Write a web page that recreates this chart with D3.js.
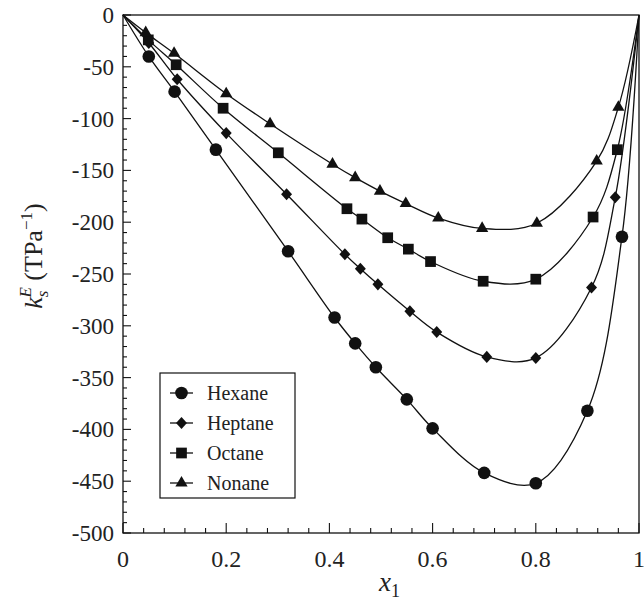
<!DOCTYPE html>
<html><head><meta charset="utf-8">
<script src="https://cdn.jsdelivr.net/npm/d3@7"></script>
<style>body{margin:0;background:#fff}svg{display:block}text{font-family:"Liberation Serif","DejaVu Serif",serif}</style>
</head><body><svg id="c" width="644" height="600"></svg>
<script>
const seriesNames = ["Hexane","Heptane","Octane","Nonane"];
const hexaneX = [0,0.05,0.1,0.18,0.32,0.41,0.45,0.49,0.55,0.60,0.70,0.80,0.90,0.967,1];
const hexaneY = [0,-40,-74,-130,-228,-292,-317,-340,-371,-399,-442,-452,-382,-214,0];
const heptaneX = [0,0.05,0.105,0.2,0.317,0.43,0.46,0.494,0.556,0.608,0.705,0.80,0.908,0.954,1];
const heptaneY = [0,-27,-62,-114,-173,-231,-245,-260,-286,-306,-330,-331,-263,-176,0];
const octaneX = [0,0.049,0.103,0.194,0.301,0.434,0.463,0.513,0.553,0.596,0.698,0.80,0.911,0.958,1];
const octaneY = [0,-24,-48,-90,-133,-187,-197,-215,-226,-238,-257,-255,-195,-130,0];
const nonaneX = [0,0.044,0.099,0.2,0.285,0.406,0.45,0.498,0.548,0.611,0.696,0.802,0.918,0.96,1];
const nonaneY = [0,-17,-37,-76,-105,-144,-157,-170,-182,-196,-206,-201,-141,-89,0];
const xTicks = [0,0.2,0.4,0.6,0.8,1];
const xTickLabels = ["0","0.2","0.4","0.6","0.8","1"];
const yTicks = [0,-50,-100,-150,-200,-250,-300,-350,-400,-450,-500];

const svg = d3.select("#c");
const L=123,R=639,T=15,B=533;
const x = d3.scaleLinear().domain([0,1]).range([L,R]);
const y = d3.scaleLinear().domain([0,-500]).range([T,B]);
const font = '"Liberation Serif","DejaVu Serif",serif';

svg.append("rect").attr("x",L).attr("y",T).attr("width",R-L).attr("height",B-T)
  .attr("fill","none").attr("stroke","#111").attr("stroke-width",1.3);

const xMinor = d3.range(0,1.0001,0.04).map(v=>+v.toFixed(2));
svg.append("g").selectAll("line").data(xMinor).join("line")
  .attr("x1",d=>x(d)).attr("x2",d=>x(d)).attr("y1",B)
  .attr("y2",d=>xTicks.some(t=>Math.abs(t-d)<1e-6)?B-10:B-5)
  .attr("stroke","#111").attr("stroke-width",1.1);
svg.append("g").selectAll("text").data(xTicks).join("text")
  .attr("x",d=>x(d)).attr("y",567).attr("text-anchor","middle")
  .style("font-family",font).attr("font-size",24).attr("fill","#222")
  .text((d,i)=>xTickLabels[i]);

const yMinor = d3.range(0,-501,-10);
svg.append("g").selectAll("line").data(yMinor).join("line")
  .attr("y1",d=>y(d)).attr("y2",d=>y(d)).attr("x1",L)
  .attr("x2",d=>d%50===0?L+8:L+4)
  .attr("stroke","#111").attr("stroke-width",1.1);
svg.append("g").selectAll("text").data(yTicks).join("text")
  .attr("x",114).attr("y",d=>y(d)+8).attr("text-anchor","end")
  .style("font-family",font).attr("font-size",23).attr("fill","#222")
  .text(d=>String(d));

const xt = svg.append("text").attr("x",379).attr("y",591).style("font-family",font)
  .attr("font-size",27).attr("font-style","italic").attr("fill","#222");
xt.append("tspan").text("x");
xt.append("tspan").attr("dy",6).attr("font-size",18).attr("font-style","normal").text("1");

const yt = svg.append("text").attr("transform","translate(42,256) rotate(-90)")
  .attr("text-anchor","middle").style("font-family",font).attr("font-size",26).attr("fill","#222");
yt.append("tspan").attr("font-style","italic").text("k");
yt.append("tspan").attr("font-style","italic").attr("font-size",17).attr("dy",6).text("s");
yt.append("tspan").attr("font-style","italic").attr("font-size",17).attr("dx",-7).attr("dy",-17).text("E");
yt.append("tspan").attr("dy",11).text(" (TPa");
yt.append("tspan").attr("font-size",17).attr("dy",-10).text("−1");
yt.append("tspan").attr("dy",10).text(")");

const diamond = { draw(ctx, size){ const r=Math.sqrt(size/2); ctx.moveTo(0,-r*1.1); ctx.lineTo(r,0); ctx.lineTo(0,r*1.1); ctx.lineTo(-r,0); ctx.closePath(); } };
const data = [
  {name:"Hexane", xs:hexaneX, ys:hexaneY, sym:d3.symbolCircle, size:125},
  {name:"Heptane", xs:heptaneX, ys:heptaneY, sym:diamond, size:60},
  {name:"Octane", xs:octaneX, ys:octaneY, sym:d3.symbolSquare, size:115},
  {name:"Nonane", xs:nonaneX, ys:nonaneY, sym:d3.symbolTriangle, size:65}
];
const line = d3.line().x(d=>x(d[0])).y(d=>y(d[1])).curve(d3.curveCatmullRom.alpha(0.5));
data.forEach(s=>{
  const pts = s.xs.map((v,i)=>[v,s.ys[i]]);
  svg.append("path").attr("d",line(pts)).attr("fill","none").attr("stroke","#111").attr("stroke-width",1.3);
  const inner = pts.filter(p=>p[0]>0 && p[0]<1);
  svg.append("g").selectAll("path").data(inner).join("path")
    .attr("transform",p=>`translate(${x(p[0])},${y(p[1])})`)
    .attr("d",d3.symbol().type(s.sym).size(s.size)).attr("fill","#111");
});

svg.append("rect").attr("x",160).attr("y",373).attr("width",135).attr("height",125)
  .attr("fill","#fff").attr("stroke","#111").attr("stroke-width",1.2);
data.forEach((s,i)=>{
  const ly = 393 + i*30;
  svg.append("line").attr("x1",170).attr("x2",193).attr("y1",ly).attr("y2",ly).attr("stroke","#111").attr("stroke-width",1.3);
  svg.append("path").attr("transform",`translate(181.5,${ly})`).attr("d",d3.symbol().type(s.sym).size(s.size)).attr("fill","#111");
  svg.append("text").attr("x",207).attr("y",ly+7).style("font-family",font).attr("font-size",20).attr("fill","#222").text(seriesNames[i]);
});
</script></body></html>
